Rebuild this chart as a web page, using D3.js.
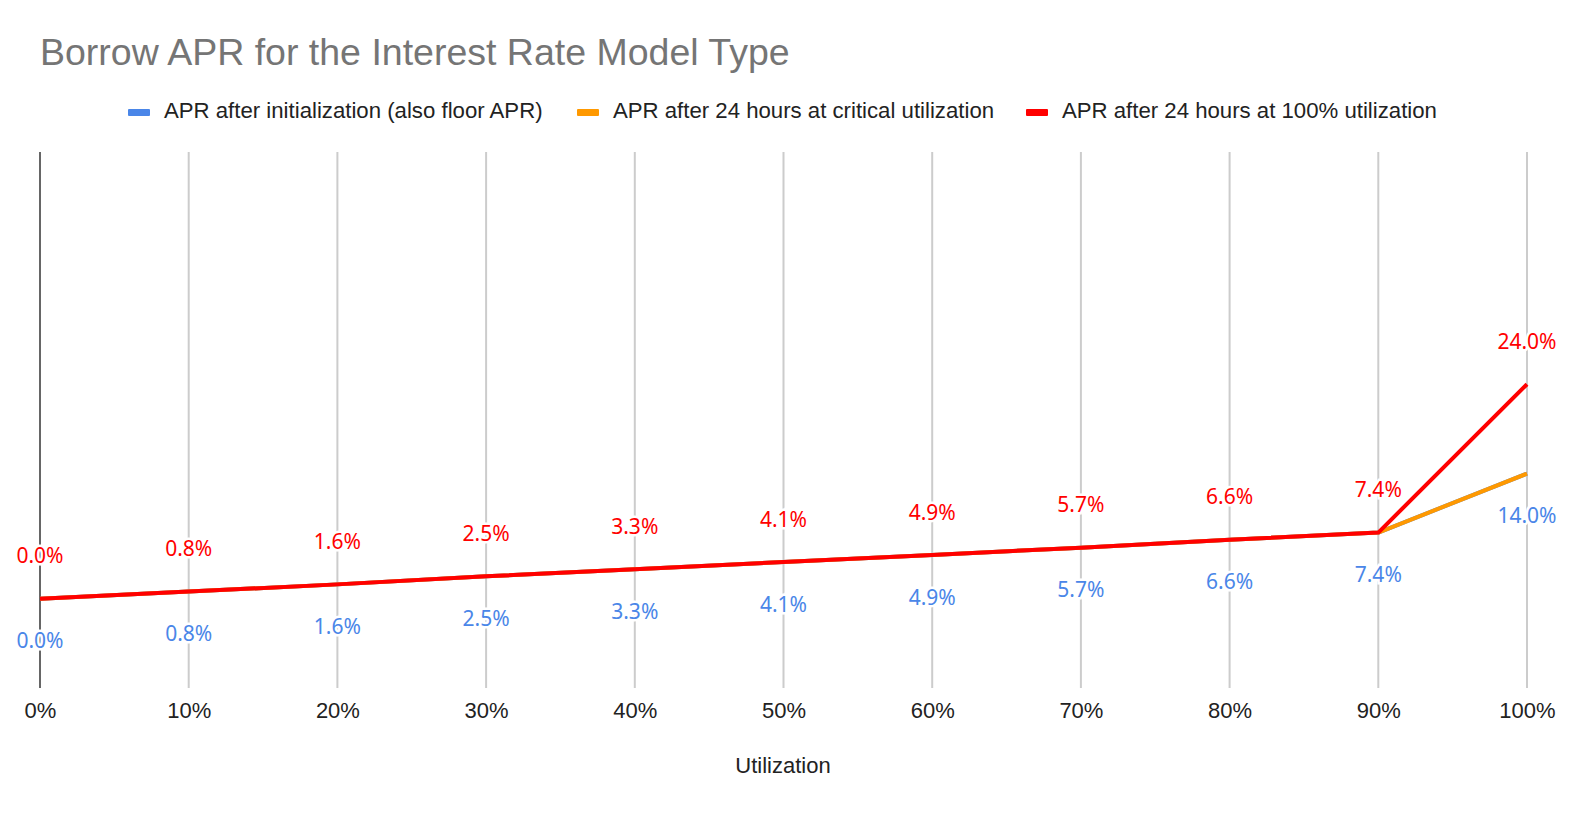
<!DOCTYPE html>
<html lang="en">
<head>
<meta charset="UTF-8">
<title>Borrow APR</title>
<style>
  html, body { margin: 0; background: #fff; overflow: hidden; }
  svg { display: block; }
</style>
</head>
<body>
<svg width="1582" height="827"></svg>
<script src="https://cdnjs.cloudflare.com/ajax/libs/d3/7.8.5/d3.min.js"></script>
<script>
// data
var utilization = [0, 10, 20, 30, 40, 50, 60, 70, 80, 90, 100];
var aprInit     = [0.0, 0.8, 1.6, 2.5, 3.3, 4.1, 4.9, 5.7, 6.6, 7.4, 14.0];
var aprCritical = [0.0, 0.8, 1.6, 2.5, 3.3, 4.1, 4.9, 5.7, 6.6, 7.4, 14.0];
var aprFull     = [0.0, 0.8, 1.6, 2.5, 3.3, 4.1, 4.9, 5.7, 6.6, 7.4, 24.0];
var seriesNames = [
  "APR after initialization (also floor APR)",
  "APR after 24 hours at critical utilization",
  "APR after 24 hours at 100% utilization"
];
var colors = ["#4a86e8", "#ff9900", "#ff0000"];

var svg = d3.select("svg");
var plotL = 40, plotR = 1527, plotT = 152, plotB = 688;
var sans = "'Liberation Sans', Arial, sans-serif";

var x = d3.scaleLinear().domain([0, 100]).range([plotL, plotR]);
var y = d3.scaleLinear().domain([-10, 50]).range([plotB, plotT]);

// title
svg.append("text").attr("x", 40).attr("y", 55)
  .attr("dominant-baseline", "middle")
  .style("font-family", sans)
  .style("font-size", "37.5px").attr("fill", "#757575")
  .text("Borrow APR for the Interest Rate Model Type");

// legend
var legendX = [128, 577, 1026];
var leg = svg.selectAll(".leg").data(seriesNames).enter().append("g")
  .attr("transform", function(d, i) { return "translate(" + legendX[i] + ",112)"; });
leg.append("rect").attr("x", 0).attr("y", -3).attr("width", 22).attr("height", 7)
  .attr("rx", 1).attr("fill", function(d, i) { return colors[i]; });
leg.append("text").attr("x", 36).attr("y", 0).attr("dominant-baseline", "middle")
  .style("font-family", sans).style("font-size", "22.2px").attr("fill", "#222")
  .text(function(d) { return d; });

// gridlines
svg.append("g").selectAll("line").data(utilization.slice(1)).enter().append("line")
  .attr("x1", function(d) { return x(d); }).attr("x2", function(d) { return x(d); })
  .attr("y1", plotT).attr("y2", plotB)
  .attr("stroke", "#cccccc").attr("stroke-width", 2);

// y axis line
svg.append("line").attr("x1", x(0)).attr("x2", x(0)).attr("y1", plotT).attr("y2", plotB)
  .attr("stroke", "#333").attr("stroke-width", 1.5);

// x axis tick labels
var xAxis = d3.axisBottom(x).tickValues(utilization).tickSize(0).tickPadding(0)
  .tickFormat(function(d) { return d + "%"; });
var ax = svg.append("g").attr("transform", "translate(0,712)").call(xAxis);
ax.select(".domain").remove();
ax.selectAll("text").attr("dy", null).attr("y", 0).attr("dominant-baseline", "middle")
  .style("font-family", sans).style("font-size", "22px").attr("fill", "#222");

svg.append("text").attr("x", 783).attr("y", 767).attr("text-anchor", "middle")
  .attr("dominant-baseline", "middle")
  .style("font-family", sans).style("font-size", "22px").attr("fill", "#222")
  .text("Utilization");

// lines
var allSeries = [aprInit, aprCritical, aprFull];
var line = d3.line().x(function(d) { return x(d[0]); }).y(function(d) { return y(d[1]); });
allSeries.forEach(function(vals, i) {
  svg.append("path").attr("d", line(d3.zip(utilization, vals)))
    .attr("fill", "none").attr("stroke", colors[i]).attr("stroke-width", 4)
    .attr("stroke-linejoin", "round");
});

// data labels: blue below, red above
function labels(vals, color, dy) {
  svg.append("g").selectAll("text").data(d3.zip(utilization, vals)).enter().append("text")
    .attr("x", function(d) { return x(d[0]); })
    .attr("y", function(d) { return y(d[1]) + dy; })
    .attr("text-anchor", "middle").attr("dominant-baseline", "middle")
    .style("font-family", "'Noto Sans', sans-serif").style("font-size", "21px")
    .attr("fill", color).attr("stroke", "#fff").attr("stroke-width", 5)
    .attr("paint-order", "stroke")
    .text(function(d) { return d[1].toFixed(1) + "%"; });
}
labels(aprInit, colors[0], 44);
labels(aprFull, colors[2], -41);
</script>
</body>
</html>
